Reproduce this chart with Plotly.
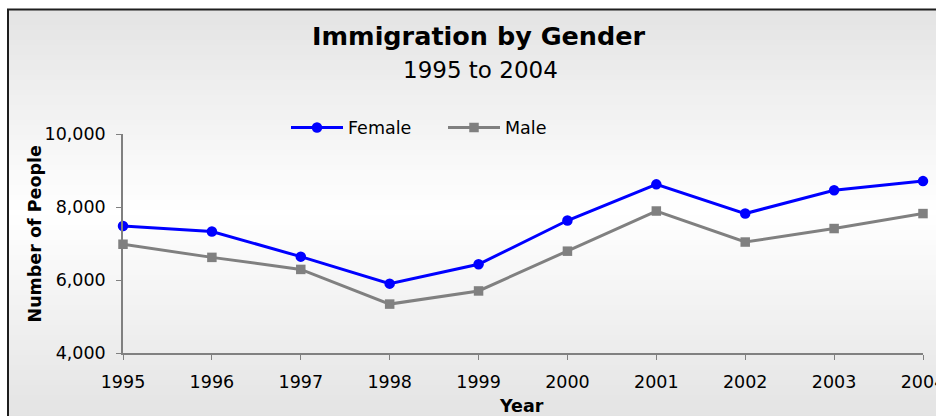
import plotly.graph_objects as go

years = [1995, 1996, 1997, 1998, 1999, 2000, 2001, 2002, 2003, 2004]
female = [7480, 7330, 6640, 5900, 6430, 7630, 8620, 7820, 8460, 8710]
male = [6980, 6620, 6290, 5340, 5700, 6790, 7890, 7040, 7410, 7820]
year_labels = [str(y) for y in years]
y_ticks = [4000, 6000, 8000, 10000]

W, H = 936, 416
ML, MR, MT, MB = 123, 13, 134, 63
PW, PH = W - ML - MR, H - MT - MB


def px(x):
    return (x - ML) / PW


def py(y):
    return (H - MB - y) / PH


FONT = "DejaVu Sans"

fig = go.Figure()
fig.add_trace(go.Scatter(
    x=years, y=female, name="Female", mode="lines+markers",
    line=dict(color="#0000ff", width=3),
    marker=dict(symbol="circle", size=10.5, color="#0000ff"),
    cliponaxis=False,
))
fig.add_trace(go.Scatter(
    x=years, y=male, name="Male", mode="lines+markers",
    line=dict(color="#808080", width=3),
    marker=dict(symbol="square", size=9.5, color="#808080"),
    cliponaxis=False,
))

# gradient background (grey - white - grey) inside the frame
shapes = []
top, bottom, center = 10, 420, 212
n = 82
step = (bottom - top) / n
for i in range(n):
    y0 = top + i * step
    y1 = y0 + step + 0.6
    ym = (y0 + y0 + step) / 2
    v = int(round(255 - 0.135 * abs(ym - center)))
    v = max(220, min(255, v))
    shapes.append(dict(
        type="rect", xref="paper", yref="paper", layer="below",
        x0=px(8), x1=px(1000), y0=py(y0), y1=py(y1),
        fillcolor=f"rgb({v},{v},{v})", line=dict(width=0),
    ))
shapes.append(dict(
    type="rect", xref="paper", yref="paper", layer="below",
    x0=px(8), x1=px(1000), y0=py(9.5), y1=py(500),
    fillcolor="rgba(0,0,0,0)", line=dict(color="#1e1e1e", width=2),
))

annotations = [
    dict(text="<b>Immigration by Gender</b>", x=px(479), y=py(35.5),
         xref="paper", yref="paper", xanchor="center", yanchor="middle",
         showarrow=False, font=dict(family=FONT, size=25.5, color="#000")),
    dict(text="1995 to 2004", x=px(480), y=py(70),
         xref="paper", yref="paper", xanchor="center", yanchor="middle",
         showarrow=False, font=dict(family=FONT, size=23, color="#000")),
    dict(text="<b>Number of People</b>", x=px(34.5), y=py(234),
         xref="paper", yref="paper", xanchor="center", yanchor="middle",
         textangle=-90, showarrow=False,
         font=dict(family=FONT, size=17.5, color="#000")),
    dict(text="<b>Year</b>", x=px(521.5), y=py(405.5),
         xref="paper", yref="paper", xanchor="center", yanchor="middle",
         showarrow=False, font=dict(family=FONT, size=17.5, color="#000")),
]

TICKFONT = dict(family=FONT, size=17.5, color="#000")

fig.update_layout(
    width=W, height=H,
    margin=dict(l=ML, r=MR, t=MT, b=MB, pad=0, autoexpand=False),
    paper_bgcolor="white",
    plot_bgcolor="rgba(0,0,0,0)",
    font=dict(family=FONT, size=17.5, color="#000"),
    shapes=shapes,
    annotations=annotations,
    showlegend=True,
    legend=dict(
        orientation="h", x=px(286), y=py(127.7), xanchor="left", yanchor="middle",
        bgcolor="rgba(0,0,0,0)", borderwidth=0,
        font=dict(family=FONT, size=17.5, color="#000"),
        itemwidth=52, entrywidth=90, entrywidthmode="pixels",
    ),
    xaxis=dict(
        range=[1995, 2004], tickvals=years, ticktext=year_labels,
        showgrid=False, zeroline=False, automargin=False,
        showline=True, linecolor="#808080", linewidth=1.5,
        ticks="outside", ticklen=5, tickcolor="#808080", tickwidth=1.2,
        ticklabelstandoff=7, ticklabeloverflow="allow", tickfont=TICKFONT,
    ),
    yaxis=dict(
        range=[4000, 10000], tickvals=y_ticks, tickformat=",d",
        showgrid=False, zeroline=False, automargin=False,
        showline=True, linecolor="#808080", linewidth=1.5,
        ticks="outside", ticklen=5, tickcolor="#808080", tickwidth=1.2,
        ticklabelstandoff=7, tickfont=TICKFONT,
    ),
)

fig.write_html("out.html")
